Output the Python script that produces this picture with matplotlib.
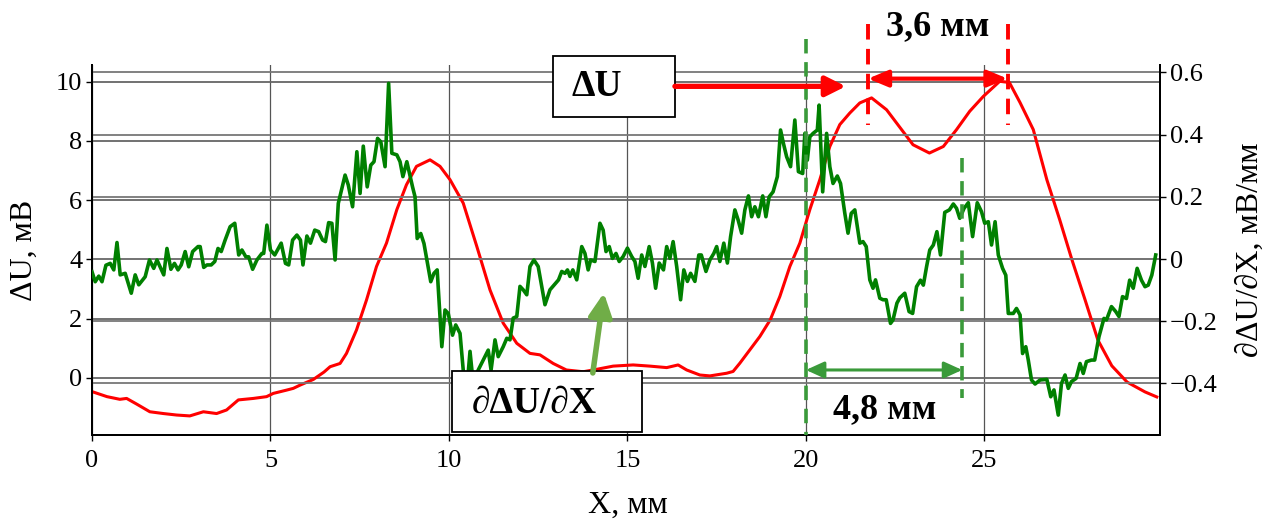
import numpy as np
import matplotlib
matplotlib.use("Agg")
import matplotlib.pyplot as plt
from matplotlib.patches import FancyArrowPatch, Rectangle, ArrowStyle

plt.rcParams['font.family'] = ['Liberation Serif', 'DejaVu Serif']

# ΔU, мВ (left axis)
du_x = [0.00, 0.42, 0.78, 0.97, 1.25, 1.62, 2.00, 2.37, 2.74, 3.12, 3.49, 3.77,
        4.10, 4.52, 4.89, 5.08, 5.45, 5.64, 5.83, 6.20, 6.50, 6.67, 6.95, 7.13,
        7.41, 7.69, 7.97, 8.25, 8.54, 8.81, 9.09, 9.47, 9.75, 10.03, 10.40, 10.78,
        11.15, 11.52, 11.90, 12.27, 12.55, 12.92, 13.29, 13.76, 14.13, 14.60, 15.16,
        15.63, 16.10, 16.42, 16.66, 17.03, 17.31, 17.78, 17.96, 18.15, 18.43, 18.71,
        19.00, 19.27, 19.55, 19.83, 20.11, 20.39, 20.67, 20.95, 21.23, 21.51, 21.84,
        22.26, 22.63, 23.00, 23.46, 23.85, 24.22, 24.59, 24.97, 25.43, 25.70, 26.00,
        26.37, 26.75, 27.11, 27.45, 27.82, 28.18, 28.57, 29.00, 29.50, 29.83]
du_y = [-0.46, -0.63, -0.72, -0.69, -0.88, -1.14, -1.20, -1.25, -1.28, -1.14, -1.20, -1.08,
        -0.74, -0.69, -0.63, -0.52, -0.41, -0.35, -0.24, -0.05, 0.20, 0.38, 0.49, 0.83,
        1.62, 2.63, 3.76, 4.55, 5.68, 6.52, 7.14, 7.36, 7.14, 6.69, 5.90, 4.44,
        2.97, 1.85, 1.17, 0.83, 0.78, 0.49, 0.27, 0.21, 0.29, 0.40, 0.44,
        0.40, 0.35, 0.44, 0.27, 0.10, 0.07, 0.16, 0.22, 0.50, 0.95, 1.40,
        1.96, 2.75, 3.76, 4.55, 5.68, 6.69, 7.81, 8.55, 8.94, 9.28, 9.45,
        9.05, 8.46, 7.87, 7.59, 7.81, 8.38, 9.00, 9.50, 10.01, 9.97, 9.29,
        8.38, 6.69, 5.34, 4.00, 2.64, 1.28, 0.41, -0.14, -0.47, -0.64]

# ∂ΔU/∂X, мВ/мм (right axis)
dd_x = [0.00, 0.09, 0.19, 0.28, 0.39, 0.51, 0.61, 0.70, 0.79, 0.93, 1.10, 1.21, 1.31,
        1.49, 1.61, 1.73, 1.82, 2.01, 2.10, 2.21, 2.31, 2.41, 2.50, 2.61, 2.71, 2.82,
        2.97, 3.03, 3.13, 3.22, 3.34, 3.44, 3.53, 3.62, 3.73, 3.87, 4.00, 4.11, 4.20,
        4.31, 4.39, 4.50, 4.62, 4.76, 4.81, 4.90, 5.00, 5.12, 5.30, 5.42, 5.51, 5.62,
        5.74, 5.84, 5.91, 6.02, 6.12, 6.24, 6.35, 6.46, 6.54, 6.63, 6.72, 6.81, 6.90,
        7.09, 7.18, 7.30, 7.42, 7.51, 7.60, 7.71, 7.81, 7.90, 8.00, 8.09, 8.21, 8.31,
        8.40, 8.54, 8.63, 8.71, 8.82, 8.98, 9.05, 9.11, 9.21, 9.30, 9.49, 9.58, 9.67,
        9.80, 9.89, 9.98, 10.10, 10.19, 10.31, 10.40, 10.50, 10.59, 10.68, 10.82,
        10.96, 11.10, 11.18, 11.29, 11.38, 11.52, 11.62, 11.71, 11.80, 11.90, 11.99,
        12.08, 12.18, 12.27, 12.38, 12.50, 12.69, 12.83, 12.95, 13.07, 13.16, 13.25,
        13.32, 13.39, 13.47, 13.58, 13.72, 13.81, 13.90, 13.97, 14.09, 14.23, 14.32,
        14.40, 14.49, 14.58, 14.68, 14.77, 14.88, 15.00, 15.12, 15.21, 15.30, 15.40,
        15.49, 15.61, 15.70, 15.79, 15.89, 16.01, 16.10, 16.19, 16.28, 16.38, 16.49,
        16.58, 16.68, 16.77, 16.89, 17.00, 17.07, 17.20, 17.31, 17.42, 17.50, 17.59,
        17.70, 17.80, 17.89, 18.01, 18.10, 18.20, 18.29, 18.39, 18.48, 18.57, 18.67,
        18.79, 18.88, 18.97, 19.08, 19.20, 19.29, 19.37, 19.46, 19.57, 19.69, 19.79,
        19.91, 19.97, 20.04, 20.11, 20.20, 20.32, 20.37, 20.47, 20.58, 20.67, 20.76,
        20.88, 20.97, 21.09, 21.18, 21.27, 21.37, 21.51, 21.60, 21.69, 21.79, 21.88,
        21.95, 22.07, 22.16, 22.25, 22.37, 22.44, 22.55, 22.63, 22.77, 22.89, 22.99,
        23.10, 23.21, 23.29, 23.38, 23.47, 23.57, 23.67, 23.77, 23.89, 24.02, 24.13,
        24.22, 24.31, 24.43, 24.55, 24.67, 24.80, 24.92, 25.01, 25.11, 25.20, 25.30,
        25.39, 25.51, 25.60, 25.67, 25.81, 25.90, 26.00, 26.07, 26.16, 26.23, 26.32,
        26.42, 26.56, 26.75, 26.86, 26.95, 27.07, 27.16, 27.26, 27.35, 27.44, 27.57,
        27.68, 27.77, 27.86, 28.00, 28.09, 28.21, 28.35, 28.42, 28.56, 28.68, 28.77,
        28.87, 28.98, 29.07, 29.17, 29.28, 29.40, 29.50, 29.59, 29.69, 29.80]
dd_y = [-0.041, -0.073, -0.055, -0.073, -0.020, -0.014, -0.035, 0.053, -0.051, -0.046,
        -0.110, -0.051, -0.083, -0.057, -0.003, -0.030, -0.003, -0.051, 0.034, -0.033,
        -0.014, -0.035, -0.019, 0.024, -0.025, 0.024, 0.040, 0.040, -0.027, -0.019,
        -0.019, -0.008, 0.034, 0.024, 0.061, 0.104, 0.115, 0.013, 0.029, 0.007, 0.007,
        -0.033, -0.003, 0.018, 0.018, 0.109, 0.029, 0.013, 0.051, -0.014, -0.019, 0.061,
        0.077, 0.061, -0.019, 0.074, 0.051, 0.093, 0.088, 0.061, 0.056, 0.117, 0.115,
        -0.003, 0.179, 0.270, 0.238, 0.168, 0.345, 0.211, 0.363, 0.232, 0.302, 0.313,
        0.388, 0.377, 0.297, 0.565, 0.340, 0.335, 0.313, 0.265, 0.313, 0.232, 0.200,
        0.066, 0.082, 0.050, -0.073, -0.046, -0.035, -0.282, -0.164, -0.175, -0.245,
        -0.212, -0.239, -0.357, -0.420, -0.297, -0.400, -0.357, -0.325, -0.293, -0.357,
        -0.260, -0.314, -0.282, -0.255, -0.260, -0.190, -0.185, -0.088, -0.099, -0.115,
        -0.024, -0.003, -0.024, -0.147, -0.099, -0.083, -0.067, -0.040, -0.046, -0.035,
        -0.056, -0.035, -0.067, 0.040, 0.018, -0.035, -0.003, -0.008, 0.115, 0.093,
        0.024, 0.040, 0.002, 0.018, -0.008, 0.008, 0.035, 0.008, -0.008, -0.062, 0.013,
        -0.024, 0.040, -0.013, -0.094, -0.013, -0.035, 0.040, 0.002, 0.056, -0.024,
        -0.131, -0.035, -0.072, -0.046, -0.072, 0.013, 0.013, -0.040, -0.003, 0.018,
        0.040, -0.008, 0.051, -0.013, 0.072, 0.158, 0.126, 0.083, 0.158, 0.203, 0.136,
        0.168, 0.136, 0.203, 0.136, 0.200, 0.216, 0.265, 0.415, 0.372, 0.329, 0.297,
        0.447, 0.281, 0.275, 0.404, 0.318, 0.393, 0.404, 0.415, 0.495, 0.216, 0.404,
        0.297, 0.243, 0.267, 0.243, 0.147, 0.083, 0.147, 0.158, 0.051, 0.056, 0.040,
        -0.067, -0.094, -0.067, -0.126, -0.131, -0.131, -0.207, -0.196, -0.142, -0.125,
        -0.110, -0.169, -0.175, -0.089, -0.068, -0.084, -0.025, 0.029, 0.045, 0.088,
        0.013, 0.150, 0.158, 0.177, 0.163, 0.131, 0.163, 0.181, 0.072, 0.181, 0.152,
        0.115, 0.120, 0.045, 0.120, 0.013, -0.030, -0.052, -0.175, -0.175, -0.159,
        -0.180, -0.304, -0.282, -0.325, -0.389, -0.402, -0.389, -0.387, -0.443, -0.421,
        -0.502, -0.400, -0.373, -0.416, -0.394, -0.384, -0.336, -0.368, -0.330, -0.325,
        -0.325, -0.250, -0.191, -0.196, -0.153, -0.169, -0.185, -0.121, -0.127, -0.068,
        -0.094, -0.030, -0.068, -0.089, -0.084, -0.052, 0.013]

x_ticks = [0, 5, 10, 15, 20, 25]
left_ticks = [0, 2, 4, 6, 8, 10]
right_ticks = [-0.4, -0.2, 0, 0.2, 0.4, 0.6]
right_labels = ["\u22120.4", "\u22120.2", "0", "0.2", "0.4", "0.6"]

fig = plt.figure(figsize=(12.74, 5.2), dpi=100)
ax1 = fig.add_axes([92 / 1274, 85 / 520, 1068 / 1274, 370 / 520])
ax2 = ax1.twinx()

ax1.plot(du_x, du_y, color="#ff0000", lw=2.2, zorder=3)
ax2.plot(dd_x, dd_y, color="#008000", lw=2.6, zorder=3)

ax1.set_xlim(0, 29.92)
ax1.set_ylim(-1.924, 10.56)
ax2.set_ylim(-0.566, 0.624)

ax1.set_xticks(x_ticks)
ax1.set_yticks(left_ticks)
ax2.set_yticks(right_ticks)
ax2.set_yticklabels(right_labels)

for ax in (ax1, ax2):
    ax.spines["top"].set_visible(False)
    for s in ("left", "right", "bottom"):
        ax.spines[s].set_linewidth(1.4)
    ax.tick_params(labelsize=19, direction="out", length=4, width=1)
ax1.tick_params(axis="x", pad=7)
ax1.tick_params(axis="y", pad=3)
ax2.tick_params(axis="y", pad=3)

ax1.grid(True, axis="x", color="#555555", lw=0.9)
ax1.grid(True, axis="y", color="#666666", lw=1.3)
ax2.grid(True, axis="y", color="#777777", lw=1.3)
ax1.set_axisbelow(True)

ax1.set_xlabel("X, мм", fontsize=23)
ax1.set_ylabel("\u0394U, мВ", fontsize=23)
ax2.set_ylabel("\u2202\u0394U/\u2202X, мВ/мм", fontsize=23)
ax1.xaxis.set_label_coords(0.502, -0.15)
ax1.yaxis.set_label_coords(-0.050, 0.5)
ax2.yaxis.set_label_coords(1.071, 0.5)

# annotations (in left-axis data coordinates)
tr = ax1.transData
green = "#3a9a3a"
red = "#ff0000"

ax2.plot([20.0, 20.0], [11.45, -1.924], transform=tr, color=green, lw=2.6,
         ls=(0, (4, 2.4)), clip_on=False, zorder=6)
ax2.plot([24.38, 24.38], [7.43, -0.68], transform=tr, color=green, lw=2.6,
         ls=(0, (4, 2.4)), clip_on=False, zorder=6)
ax2.add_patch(FancyArrowPatch((20.0, 0.27), (24.38, 0.27), transform=tr,
                              arrowstyle=ArrowStyle("<|-|>", head_length=11, head_width=5),
                              mutation_scale=1, color=green, lw=2.2,
                              shrinkA=0, shrinkB=0, clip_on=False, zorder=6))
ax2.text(22.2, -1.08, "4,8 мм", transform=tr, fontsize=26, fontweight="bold",
         ha="center", va="center", zorder=7)

for xv in (21.74, 25.65):
    ax2.plot([xv, xv], [11.93, 8.55], transform=tr, color=red, lw=2.8,
             ls=(0, (4, 2.4)), clip_on=False, zorder=6)
ax2.add_patch(FancyArrowPatch((21.74, 10.1), (25.65, 10.1), transform=tr,
                              arrowstyle=ArrowStyle("<|-|>", head_length=12, head_width=5),
                              mutation_scale=1, color=red, lw=3,
                              shrinkA=0, shrinkB=0, clip_on=False, zorder=6))
ax2.text(23.7, 11.85, "3,6 мм", transform=tr, fontsize=26, fontweight="bold",
         ha="center", va="center", zorder=7)

ax2.add_patch(Rectangle((12.91, 8.82), 16.33 - 12.91, 10.88 - 8.82, transform=tr,
                        facecolor="white", edgecolor="black", lw=1.3,
                        clip_on=False, zorder=8))
ax2.text(14.15, 9.82, "\u0394U", transform=tr, fontsize=27, fontweight="bold",
         ha="center", va="center", zorder=9)
ax2.add_patch(FancyArrowPatch((16.33, 9.84), (21.12, 9.84), transform=tr,
                              arrowstyle=ArrowStyle("-|>", head_length=12, head_width=6),
                              mutation_scale=1, color=red, lw=3.8,
                              shrinkA=0, shrinkB=0, clip_on=False, zorder=8))

ax2.add_patch(Rectangle((10.08, -1.81), 15.42 - 10.08, 0.25 + 1.81, transform=tr,
                        facecolor="white", edgecolor="black", lw=1.3,
                        clip_on=False, zorder=8))
ax2.text(12.38, -0.86, "\u2202\u0394U/\u2202X", transform=tr, fontsize=27,
         fontweight="bold", ha="center", va="center", zorder=9)
ax2.add_patch(FancyArrowPatch((14.03, 0.17), (14.34, 2.87), transform=tr,
                              arrowstyle=ArrowStyle("-|>", head_length=14, head_width=7),
                              mutation_scale=1, color="#70ad47", lw=4,
                              shrinkA=0, shrinkB=0, clip_on=False, zorder=8))

fig.savefig("out.png", dpi=100)
